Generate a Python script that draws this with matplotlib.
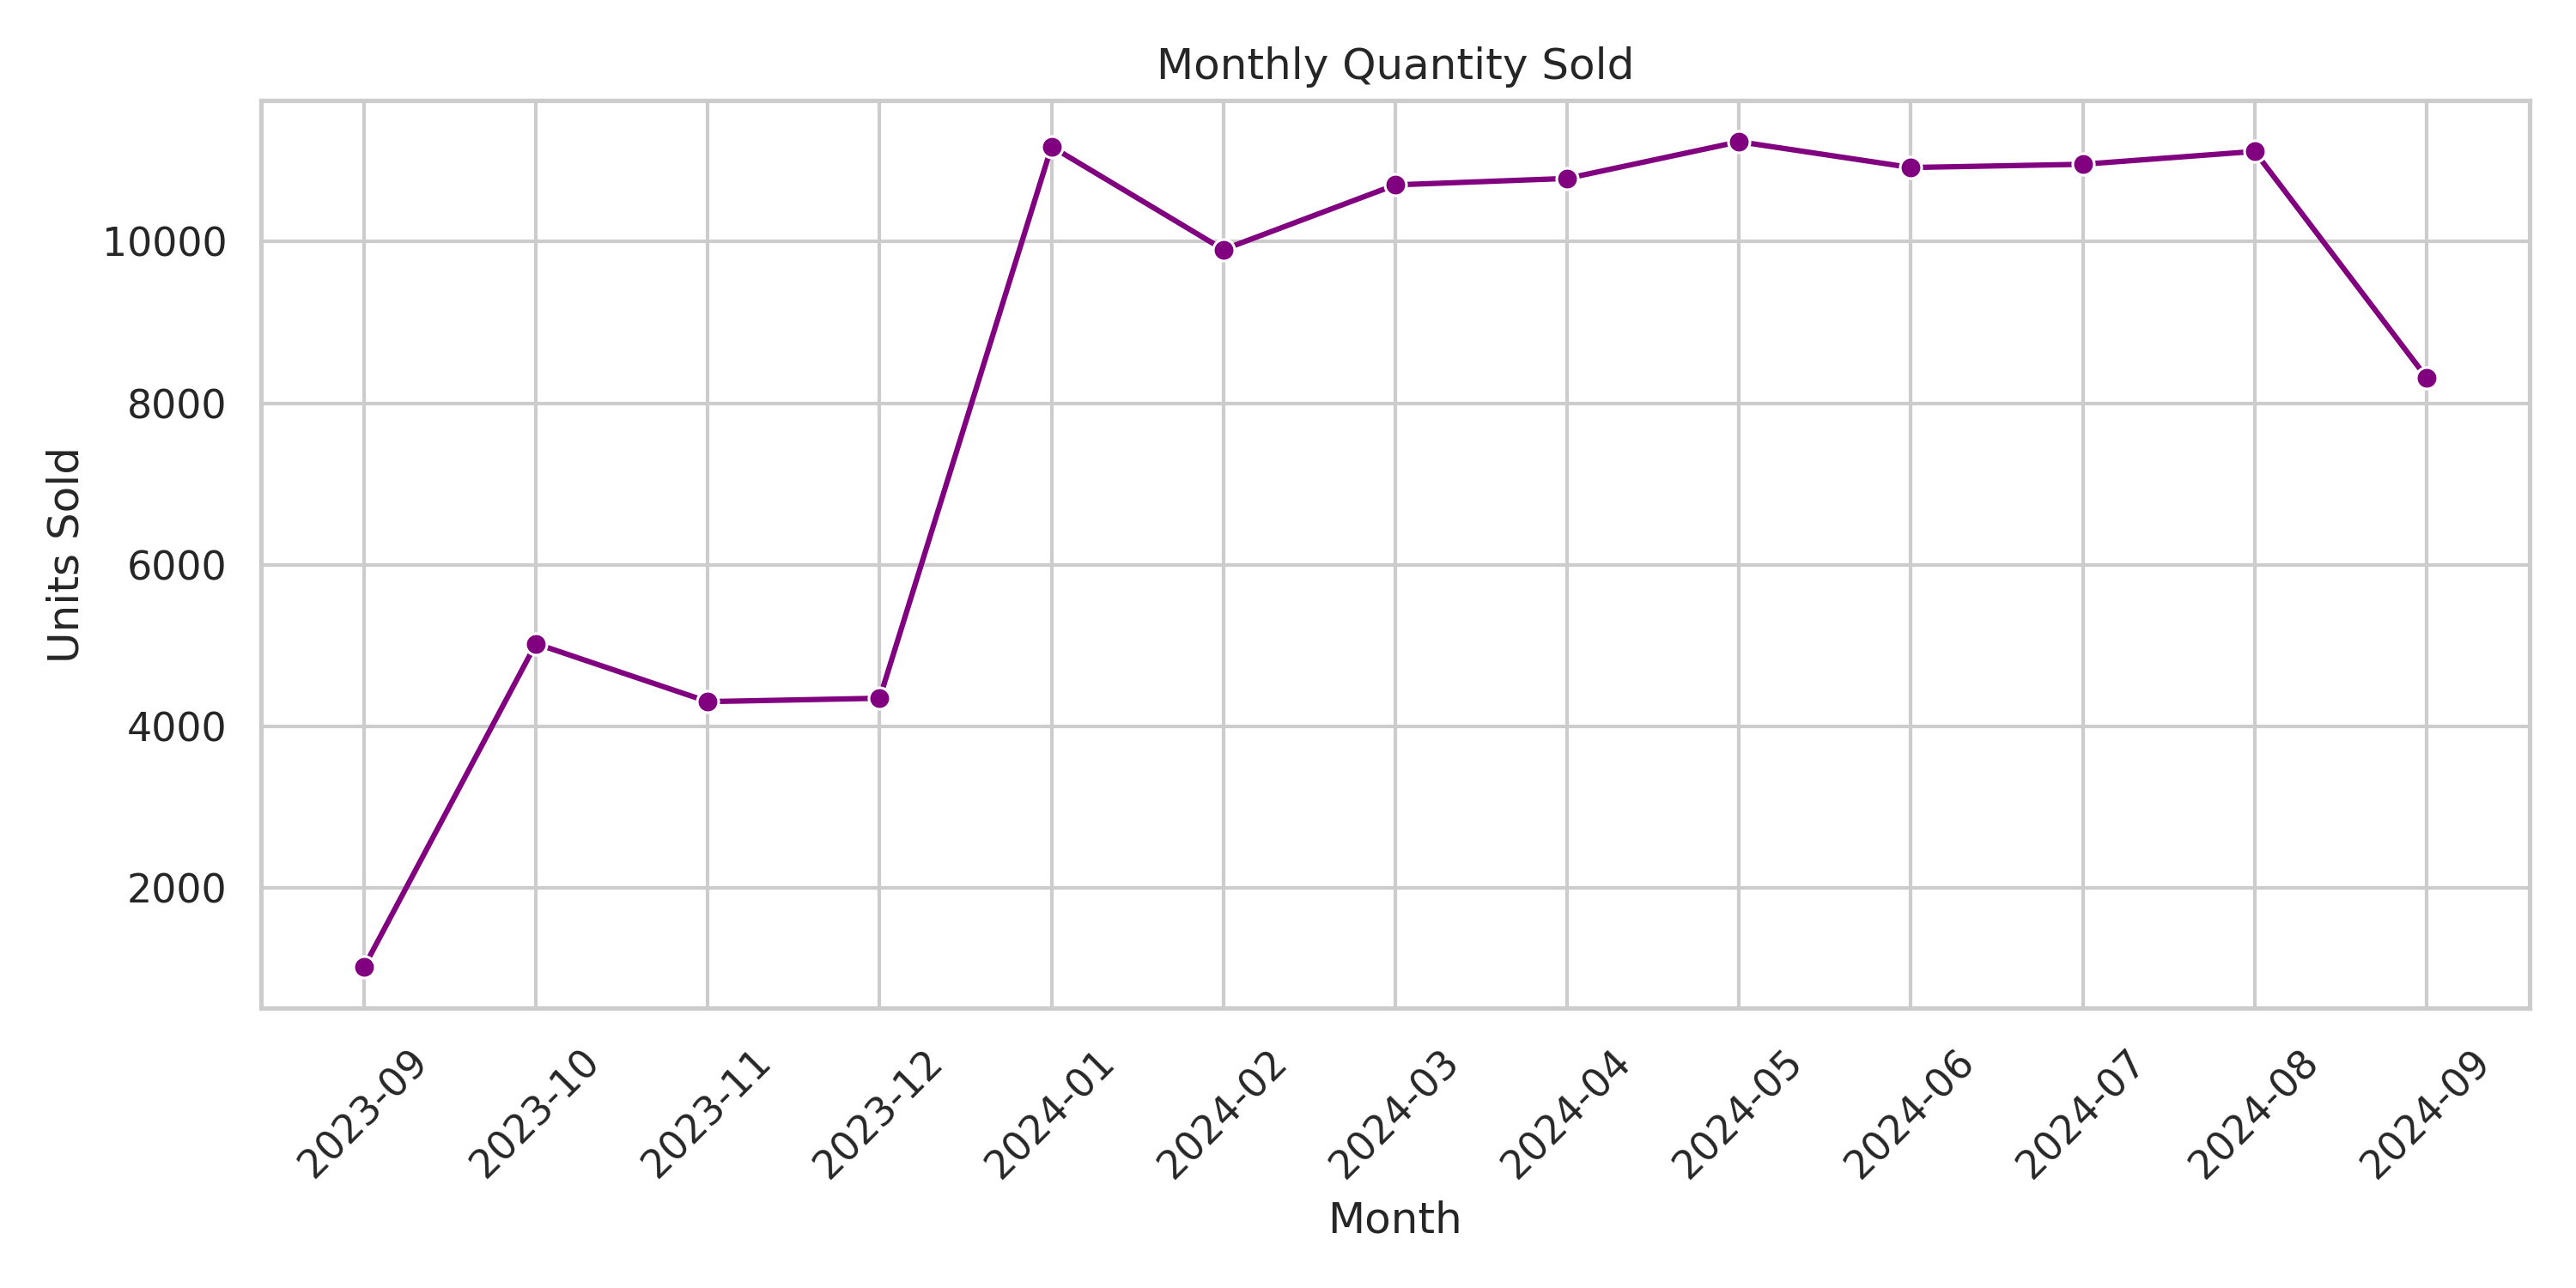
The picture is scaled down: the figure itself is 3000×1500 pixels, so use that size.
import matplotlib
matplotlib.use("Agg")
import matplotlib.pyplot as plt
import seaborn as sns

months = ["2023-09","2023-10","2023-11","2023-12","2024-01","2024-02","2024-03",
          "2024-04","2024-05","2024-06","2024-07","2024-08","2024-09"]
units = [1025, 5025, 4308, 4350, 11174, 9900, 10700, 10780, 11234, 10915, 10955, 11114, 8318]

sns.set_theme(style="whitegrid")
fig, ax = plt.subplots(figsize=(10, 5), dpi=300)
sns.lineplot(x=months, y=units, marker="o", color="purple", ax=ax)
ax.set_title("Monthly Quantity Sold")
ax.set_xlabel("Month")
ax.set_ylabel("Units Sold")
plt.xticks(rotation=45)
plt.tight_layout()
fig.savefig("out.png")
